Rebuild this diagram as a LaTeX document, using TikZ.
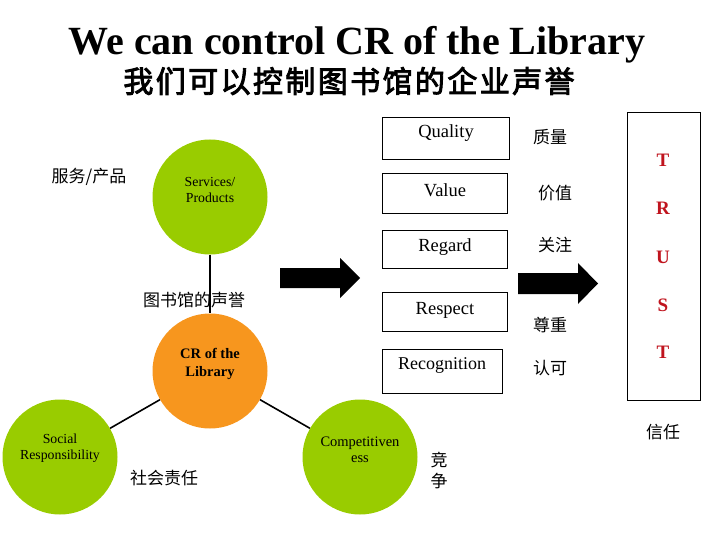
\documentclass[tikz,border=0pt]{standalone}
\usepackage{fontspec}
\setmainfont{Liberation Serif}
\newfontfamily\cjk{Noto Sans CJK SC}
\newfontfamily\cjkb[FakeBold=3,LetterSpace=8]{Noto Sans CJK SC}
\definecolor{lgreen}{RGB}{153,204,0}
\definecolor{corange}{RGB}{247,150,30}
\definecolor{tred}{RGB}{192,20,30}
\begin{document}
\begin{tikzpicture}[x=1pt,y=-1pt,
  circ/.style={circle,minimum size=115pt,inner sep=0pt},
  gcirc/.style={circ,fill=lgreen},
  ocirc/.style={circ,fill=corange},
  ctext/.style={align=center,font=\fontsize{13.8}{16.5}\selectfont},
  box/.style={draw,line width=0.9pt,inner sep=0pt},
  btext/.style={font=\fontsize{18.5}{20}\selectfont},
  zh/.style={font=\cjk\fontsize{17}{21}\selectfont,align=center},
  trust/.style={font=\bfseries\fontsize{19}{22}\selectfont,text=tred},
  conn/.style={line width=1.6pt},
  bigarrow/.style={fill=black}]
\useasboundingbox (0,0) rectangle (720,540);

% titles
\node[font=\bfseries\fontsize{40}{48}\selectfont] (title) at (357,45) {We can control CR of the Library};
\node[font=\cjkb\fontsize{30}{36}\selectfont] (subtitle) at (349,81) {我们可以控制图书馆的企业声誉};

% circles
\node[gcirc] (sp) at (210,197) {};
\node[ocirc] (cr) at (210,371) {};
\node[gcirc] (sr) at (60,457) {};
\node[gcirc] (cp) at (360,457) {};
\draw[conn] (sp) -- (cr);
\draw[conn] (cr) -- (sr);
\draw[conn] (cr) -- (cp);

\node[ctext] (spt) at (210,190) {Services/\\Products};
\node[ctext,font=\bfseries\fontsize{14.5}{17.5}\selectfont] (crt) at (210,364) {CR of the\\Library};
\node[ctext] (srt) at (60,448) {Social\\Responsibility};
\node[ctext,font=\fontsize{14.5}{16.5}\selectfont] (cpt) at (360,450) {Competitiven\\ess};

% chinese labels left
\node[zh] (zsp) at (89,177) {服务/产品};
\node[zh] (zcr) at (194,300) {图书馆的声誉};
\node[zh] (zsr) at (164,478) {社会责任};
\node[zh] (zcp) at (439,470.5) {竞\\争};

% arrows
\fill[bigarrow] (280,268) -- (340,268) -- (340,258) -- (360,278) -- (340,298) -- (340,288) -- (280,288) -- cycle;
\fill[bigarrow] (518,273) -- (578,273) -- (578,263) -- (598,283.5) -- (578,304) -- (578,294) -- (518,294) -- cycle;

% boxes
\node[box,minimum width=127pt,minimum height=42pt] (bq) at (445.5,138) {};
\node[btext] (tq) at (446,133) {Quality};
\node[box,minimum width=125pt,minimum height=40pt] (bv) at (444.5,193) {};
\node[btext] (tv) at (445,190) {Value};
\node[box,minimum width=125pt,minimum height=38pt] (brg) at (444.5,249) {};
\node[btext] (trg) at (445,247) {Regard};
\node[box,minimum width=125pt,minimum height=39pt] (brs) at (444.5,311.5) {};
\node[btext] (trs) at (445,310) {Respect};
\node[box,minimum width=120pt,minimum height=44pt] (brc) at (442,371) {};
\node[btext,font=\fontsize{18}{20}\selectfont] (trc) at (442,365) {Recognition};

% chinese labels right
\node[zh] (zq) at (550,137) {质量};
\node[zh] (zv) at (555,193) {价值};
\node[zh] (zrg) at (555,245) {关注};
\node[zh] (zrs) at (550,325) {尊重};
\node[zh] (zrc) at (550,368) {认可};

% trust box
\node[box,minimum width=73pt,minimum height=288pt] (tb) at (663.5,256) {};
\node[trust] (t1) at (663,160) {T};
\node[trust] (t2) at (663,208) {R};
\node[trust] (t3) at (663,257) {U};
\node[trust] (t4) at (663,305) {S};
\node[trust] (t5) at (663,352) {T};
\node[zh] (zt) at (663,432) {信任};
\end{tikzpicture}
\end{document}
